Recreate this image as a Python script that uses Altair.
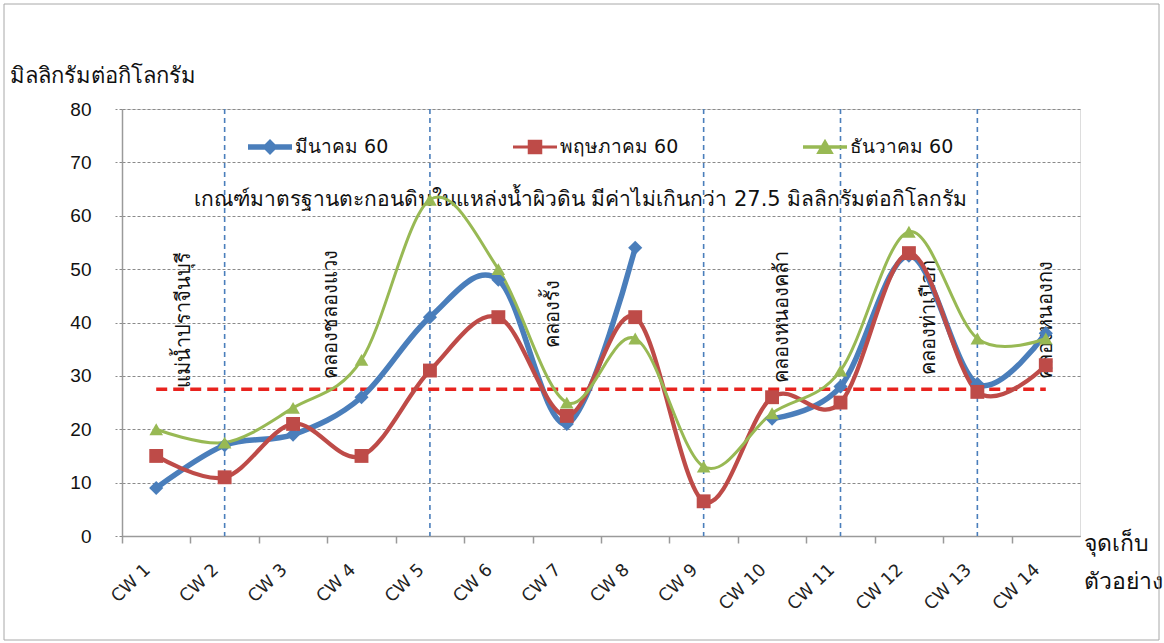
import json
import altair as alt
import pandas as pd

# Sampling points and measured sediment values (mg/kg)
stations = ["CW 1", "CW 2", "CW 3", "CW 4", "CW 5", "CW 6", "CW 7",
            "CW 8", "CW 9", "CW 10", "CW 11", "CW 12", "CW 13", "CW 14"]
series_names = ["มีนาคม 60", "พฤษภาคม 60", "ธันวาคม 60"]
mar_60 = [9, 17, 19, 26, 41, 48, 21, 54, None, 22, 28, 52.5, 28.5, 38]
may_60 = [15, 11, 21, 15, 31, 41, 22.5, 41, 6.5, 26, 25, 53, 27, 32]
dec_60 = [20, 17.5, 24, 33, 63, 50, 25, 37, 13, 23, 31, 57, 37, 37]

# Water-course boundaries (station index) and their names
boundary_at = [2, 5, 9, 11, 13]
waterway_names = ["แม่น้ำปราจีนบุรี", "คลองชลองแวง", "คลองรั้ง",
                  "คลองหนองคล้า", "คลองท่าเปือก", "คลองหนองกง"]
waterway_x = [1.4, 3.55, 6.8, 10.15, 12.3, 14.0]
waterway_y = [40.5, 41.5, 41.5, 41, 41, 40.5]

standard_value = 27.5
standard_text = "เกณฑ์มาตรฐานตะกอนดินในแหล่งน้ำผิวดิน มีค่าไม่เกินกว่า 27.5 มิลลิกรัมต่อกิโลกรัม"

colors = ["#4A7EBB", "#BE4B48", "#98B954"]
FONT = "Tahoma, 'DejaVu Sans', sans-serif"

W, H = 958, 427
BW = W / len(stations)

rows = []
for name, vals in zip(series_names, [mar_60, may_60, dec_60]):
    for i, v in enumerate(vals):
        rows.append({"pos": i + 1, "station": stations[i], "series": name, "value": v})
df = pd.DataFrame(rows)

x_scale = alt.Scale(domain=[0.5, len(stations) + 0.5], nice=False, zero=False)
y_scale = alt.Scale(domain=[0, 80], nice=False)
color_scale = alt.Scale(domain=series_names, range=colors)

label_lookup = json.dumps(stations + [""], ensure_ascii=False)

x_axis = alt.Axis(
    values=list(range(1, len(stations) + 2)),
    tickOffset=-BW / 2, labelOffset=BW / 2 - 9,
    labelExpr=f"{label_lookup}[datum.value - 1]",
    labelAngle=316, labelAlign="right", labelBaseline="middle",
    labelPadding=24, labelFlush=False, labelOverlap=False,
    labelFontSize=17.5, labelColor="#222", labelFont="DejaVu Sans",
    tickSize=7, tickColor="#9a9a9a", tickWidth=1.5,
    domainColor="#9a9a9a", domainWidth=1.5, grid=False,
    title=["จุดเก็บ", "ตัวอย่าง"], titleAngle=0, titleAlign="left",
    titleBaseline="top", titleX=W + 3, titleY=-4, titleLineHeight=38,
    titleFontSize=23, titleFontWeight="normal", titleColor="#111", titleFont=FONT,
)
y_axis = alt.Axis(
    values=list(range(0, 81, 10)),
    grid=True, gridDash=[3, 2], gridColor="#8a8a8a", gridWidth=1,
    tickSize=7, tickDash=[3, 2], tickColor="#8a8a8a",
    domainColor="#9a9a9a", domainWidth=1.5,
    labelFontSize=19, labelPadding=24, labelColor="#111", labelFont="Liberation Sans",
    title="มิลลิกรัมต่อกิโลกรัม", titleAngle=0, titleAlign="left",
    titleBaseline="middle", titleX=-113, titleY=-34,
    titleFontSize=22, titleFontWeight="normal", titleColor="#111", titleFont=FONT,
)

base = alt.Chart(df)

lines = base.mark_line(interpolate="cardinal", invalid="break-paths-show-domains").encode(
    x=alt.X("pos:Q", scale=x_scale, axis=x_axis),
    y=alt.Y("value:Q", scale=y_scale, axis=y_axis),
    color=alt.Color("series:N", scale=color_scale, legend=None),
    strokeWidth=alt.StrokeWidth("series:N", scale=alt.Scale(domain=series_names, range=[5.5, 3, 3.5]), legend=None),
    order=alt.Order("pos:Q"),
)

points = base.mark_point(filled=True, opacity=1).encode(
    x=alt.X("pos:Q", scale=x_scale),
    y=alt.Y("value:Q", scale=y_scale),
    color=alt.Color("series:N", scale=color_scale, legend=None),
    shape=alt.Shape("series:N", scale=alt.Scale(domain=series_names, range=["diamond", "square", "triangle-up"]), legend=None),
    size=alt.Size("series:N", scale=alt.Scale(domain=series_names, range=[200, 185, 270]), legend=None),
)

# legend glyphs: a short line segment with the series marker on it
legend_paths = [
    "M-1,-0.12L1,-0.12L1,0.12L-1,0.12Z M0,-0.36L0.36,0L0,0.36L-0.36,0Z",
    "M-1,-0.07L1,-0.07L1,0.07L-1,0.07Z M-0.33,-0.33L0.33,-0.33L0.33,0.33L-0.33,0.33Z",
    "M-1,-0.08L1,-0.08L1,0.08L-1,0.08Z M0,-0.38L0.4,0.32L-0.4,0.32Z",
]
legend_def = alt.Legend(
    title=None, orient="none", legendX=126, legendY=16,
    direction="horizontal", columns=3, columnPadding=124,
    symbolSize=1936, symbolStrokeWidth=0, symbolOpacity=1,
    labelFontSize=19, labelOffset=3, labelColor="#111", labelFont=FONT,
)
legend_layer = base.transform_filter("false").mark_point(filled=True).encode(
    x=alt.X("pos:Q", scale=x_scale),
    y=alt.Y("value:Q", scale=y_scale),
    color=alt.Color("series:N", scale=color_scale, legend=legend_def),
    shape=alt.Shape("series:N", scale=alt.Scale(domain=series_names, range=legend_paths), legend=legend_def),
)

bounds = alt.Chart(pd.DataFrame({"pos": boundary_at})).mark_rule(
    color="#4A7EBB", strokeDash=[5, 4], strokeWidth=1.6
).encode(x=alt.X("pos:Q", scale=x_scale))

standard = alt.Chart(pd.DataFrame({"x1": [1], "x2": [len(stations)], "v": [standard_value]})).mark_rule(
    color="#E8231E", strokeDash=[11, 6], strokeWidth=3.5
).encode(x=alt.X("x1:Q", scale=x_scale), x2="x2:Q", y=alt.Y("v:Q", scale=y_scale))

waterways = alt.Chart(pd.DataFrame({"name": waterway_names, "x": waterway_x, "y": waterway_y})).mark_text(
    angle=270, fontSize=20, color="#111", font=FONT, align="center", baseline="middle"
).encode(x=alt.X("x:Q", scale=x_scale), y=alt.Y("y:Q", scale=y_scale), text="name:N")

note = alt.Chart(pd.DataFrame({"t": [standard_text], "x": [7.2], "y": [63]})).mark_text(
    fontSize=21, color="#111", font=FONT, align="center", baseline="middle"
).encode(x=alt.X("x:Q", scale=x_scale), y=alt.Y("y:Q", scale=y_scale), text="t:N")

frame = alt.Chart(pd.DataFrame({"k": [0]})).mark_rect(
    fill="transparent", stroke="#a8a8a8", strokeWidth=1
).encode(x=alt.value(-118), x2=alt.value(W + 79), y=alt.value(-105), y2=alt.value(H + 104))

chart = alt.layer(frame, bounds, waterways, note, standard, lines, points, legend_layer).resolve_scale(
    shape="independent"
).resolve_legend(
    color="independent", shape="independent"
).properties(
    width=W, height=H,
    autosize=alt.AutoSizeParams(type="none"),
    padding={"left": 122, "top": 109, "right": 84, "bottom": 107},
).configure_view(stroke=None).configure(background="white")

chart.save("out.html", embed_options={"renderer": "svg", "actions": False})
